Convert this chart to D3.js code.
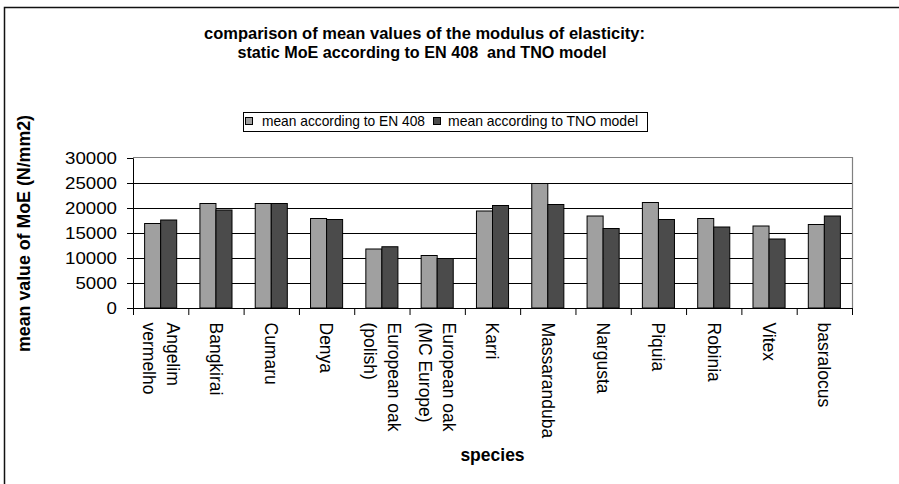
<!DOCTYPE html>
<html><head><meta charset="utf-8">
<script src="https://cdn.jsdelivr.net/npm/d3@7"></script>
<style>
html,body{margin:0;padding:0;background:#fff;}
svg{display:block;font-family:"Liberation Sans",Arial,sans-serif;}
</style></head>
<body>
<svg id="chart" width="899" height="484"></svg>
<script>
const categories = [
  ["Angelim","vermelho"], ["Bangkirai"], ["Cumaru"], ["Denya"],
  ["European oak","(polish)"], ["European oak","(MC Europe)"], ["Karri"],
  ["Massaranduba"], ["Nargusta"], ["Piquia"], ["Robinia"], ["Vitex"], ["basralocus"]
];
const seriesNames = ["mean according to EN 408", "mean according to TNO model"];
const en408 = [16900, 20900, 20900, 17900, 11800, 10500, 19400, 24900, 18400, 21100, 17900, 16400, 16700];
const tno   = [17600, 19600, 20900, 17700, 12250, 9900, 20500, 20700, 15900, 17700, 16200, 13800, 18400];
const yTicks = [0, 5000, 10000, 15000, 20000, 25000, 30000];
const titleLines = ["comparison of mean values of the modulus of elasticity:", "static MoE according to EN 408  and TNO model"];
const yTitle = "mean value of MoE (N/mm2)";
const xTitle = "species";

const colors = ["#a0a0a0", "#4b4b4b"];
const svg = d3.select("#chart");
const L = 133, R = 852, T = 158, B = 308;

// outer frame (clipped at right/bottom)
svg.append("rect").attr("x", 4.5).attr("y", 7.5).attr("width", 1000).attr("height", 1000)
  .attr("fill", "none").attr("stroke", "#111").attr("stroke-width", 1.5);

// title
const titleW = [441, 369], titleX = [424.5, 422];
const tl = svg.append("text").attr("font-weight", "bold").attr("font-size", 16)
  .attr("text-anchor", "middle").style("white-space", "pre");
tl.selectAll("tspan").data(titleLines).join("tspan")
  .attr("x", (d, i) => titleX[i]).attr("y", (d, i) => 39 + i * 18.5)
  .attr("textLength", (d, i) => titleW[i]).attr("lengthAdjust", "spacingAndGlyphs").text(d => d);

const keys = categories.map(c => c.join(" "));
const x = d3.scaleBand().domain(keys).range([L, R]).padding(0);
const x1 = d3.scaleBand().domain([0, 1]).range([x.bandwidth() * 0.21, x.bandwidth() * 0.79]).padding(0);
const y = d3.scaleLinear().domain([0, 30000]).range([B, T]);

// gridlines
svg.append("g").selectAll("line").data(yTicks.filter(t => t > 0 && t < 30000)).join("line")
  .attr("x1", L).attr("x2", R).attr("y1", d => Math.round(y(d)) + 0.5).attr("y2", d => Math.round(y(d)) + 0.5)
  .attr("stroke", "#000").attr("stroke-width", 1);
// plot border top/right
svg.append("path").attr("d", `M${L},${T - 0.5}H${R + 0.5}V${B}`)
  .attr("fill", "none").attr("stroke", "#808080").attr("stroke-width", 1.2);

// bars
const data = keys.map((k, i) => ({k, v: [en408[i], tno[i]]}));
const groups = svg.append("g").selectAll("g").data(data).join("g")
  .attr("transform", d => `translate(${x(d.k)},0)`);
groups.selectAll("rect").data(d => d.v.map((v, j) => ({v, j}))).join("rect")
  .attr("x", d => x1(d.j)).attr("width", x1.bandwidth())
  .attr("y", d => y(d.v)).attr("height", d => y(0) - y(d.v))
  .attr("fill", d => colors[d.j]).attr("stroke", "#000").attr("stroke-width", 1);

// y axis
const yAxis = svg.append("g").attr("transform", `translate(${L},0)`)
  .call(d3.axisLeft(y).tickValues(yTicks).tickSize(6).tickPadding(10).tickFormat(d3.format("d")));
yAxis.select(".domain").attr("stroke", "#000");
yAxis.selectAll(".tick line").attr("stroke", "#000");
yAxis.selectAll(".tick text").attr("font-size", 16).attr("fill", "#000")
  .attr("font-family", "Liberation Sans, Arial, sans-serif")
  .attr("textLength", d => String(d).length * 10.4).attr("lengthAdjust", "spacingAndGlyphs");

// x axis
const xb = d3.scaleLinear().domain([0, categories.length]).range([L, R]);
const xAxis = svg.append("g").attr("transform", `translate(0,${B})`)
  .call(d3.axisBottom(xb).tickValues(d3.range(categories.length + 1)).tickSize(7).tickFormat(""));
xAxis.select(".domain").attr("stroke", "#000");
xAxis.selectAll(".tick line").attr("stroke", "#000");

// category labels rotated
const lab = svg.append("g").selectAll("text").data(categories).join("text")
  .attr("transform", (d, i) => `translate(${x(keys[i]) + x.bandwidth() / 2},322.5) rotate(90)`)
  .attr("font-size", 17.5).attr("fill", "#000");
lab.selectAll("tspan").data(d => d.map((s, i) => ({s, i, n: d.length}))).join("tspan")
  .attr("x", 0).attr("y", d => (d.i - (d.n - 1) / 2) * 24)
  .attr("dy", "0.35em").text(d => d.s);

// axis titles
svg.append("text").attr("transform", `translate(24,233.5) rotate(-90)`)
  .attr("text-anchor", "middle").attr("dy", "0.35em")
  .attr("font-weight", "bold").attr("font-size", 17.5)
  .attr("textLength", 237).attr("lengthAdjust", "spacingAndGlyphs").text(yTitle);
svg.append("text").attr("x", (L + R) / 2).attr("y", 461).attr("text-anchor", "middle")
  .attr("font-weight", "bold").attr("font-size", 17.5).text(xTitle);

// legend
const lg = svg.append("g");
lg.append("rect").attr("x", 243.5).attr("y", 112.5).attr("width", 404).attr("height", 19)
  .attr("fill", "#fff").attr("stroke", "#000").attr("stroke-width", 1);
const legX = [245, 433], legTX = [262, 448], legW = [163, 190];
seriesNames.forEach((s, i) => {
  lg.append("rect").attr("x", legX[i] + 0.5).attr("y", 117.5).attr("width", 7).attr("height", 7)
    .attr("fill", colors[i]).attr("stroke", "#000").attr("stroke-width", 1);
  lg.append("text").attr("x", legTX[i]).attr("y", 126).attr("font-size", 14.5)
    .attr("textLength", legW[i]).attr("lengthAdjust", "spacingAndGlyphs").text(s);
});
</script>
</body></html>
